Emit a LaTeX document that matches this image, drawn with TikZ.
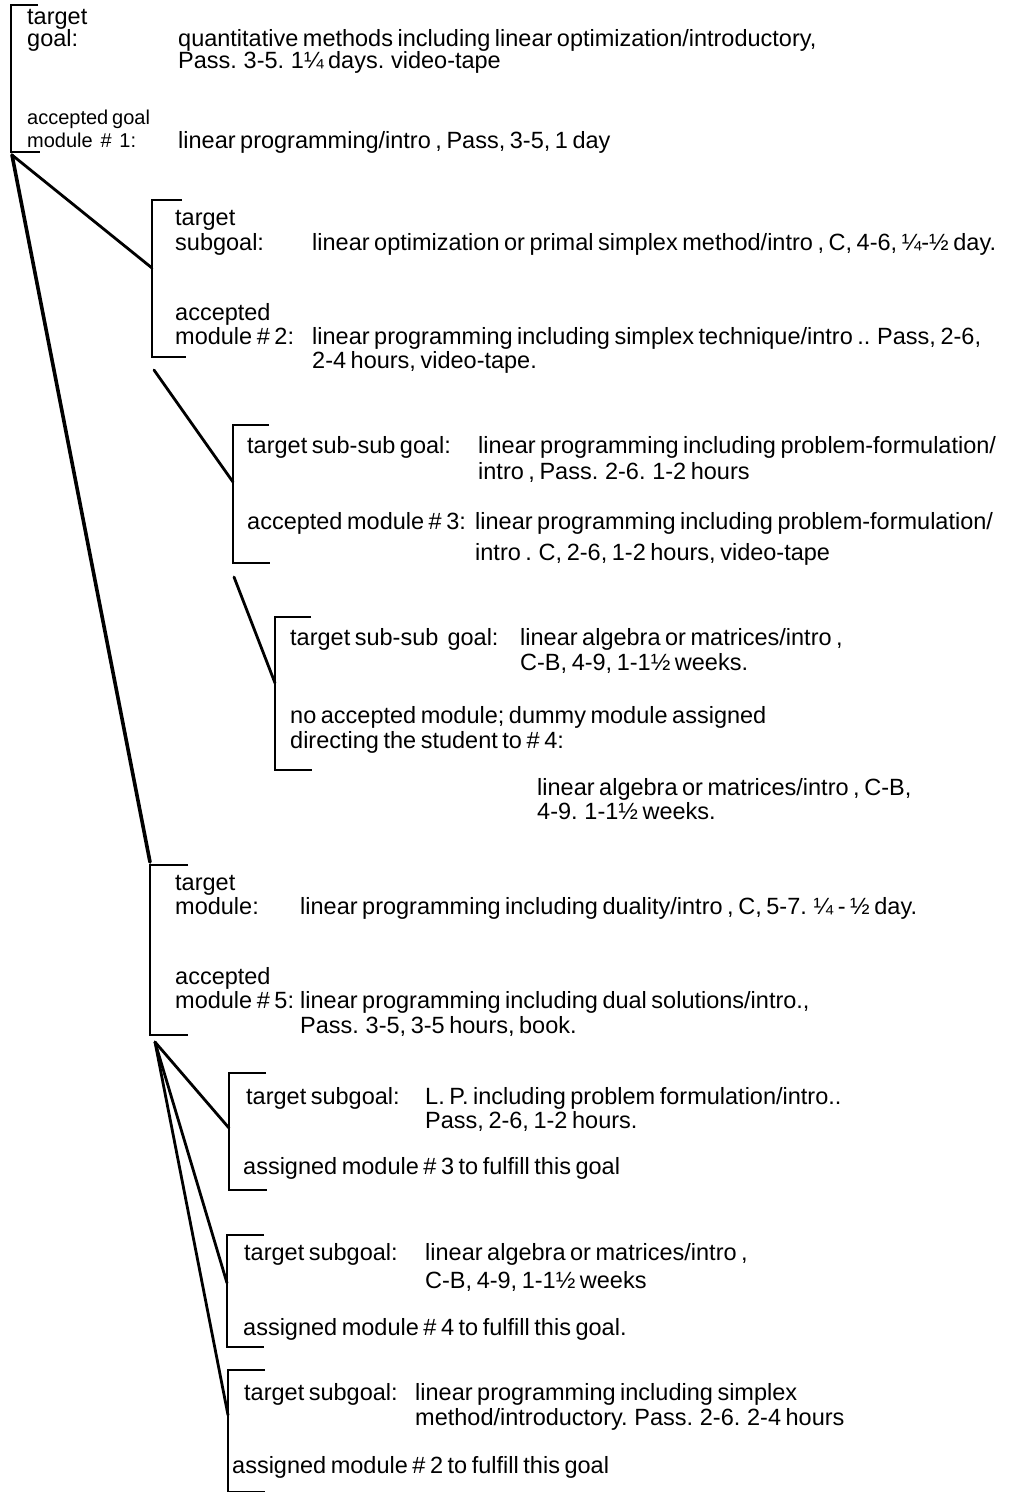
\documentclass[tikz,border=0pt]{standalone}
\usepackage{fontspec}
\setmainfont[WordSpace=0.7]{Liberation Sans}
\begin{document}
\begin{tikzpicture}[x=1pt,y=-1pt,
  txt/.style={anchor=mid west,inner sep=0pt,yshift=-5pt,font=\fontsize{23.5}{25}\selectfont},
  small/.style={txt,font=\fontsize{20}{22}\selectfont},
  brk/.style={line width=2.4pt,line join=miter},
  conn/.style={line width=2.8pt,line cap=round},
  thick conn/.style={line width=3.6pt,line cap=round}]
\useasboundingbox[fill=white] (0,0) rectangle (1013,1492);

% ---------- brackets
\draw[brk] (38,5) -- (11,5) -- (11,152) -- (40,152);
\draw[brk] (182,200) -- (152,200) -- (152,357) -- (186,357);
\draw[brk] (269,425) -- (233,425) -- (233,563) -- (270,563);
\draw[brk] (311,617) -- (275,617) -- (275,770) -- (312,770);
\draw[brk] (188,865) -- (150,865) -- (150,1035) -- (188,1035);
\draw[brk] (266,1073) -- (229,1073) -- (229,1190) -- (267,1190);
\draw[brk] (264,1235) -- (227,1235) -- (227,1347) -- (264,1347);
\draw[brk] (265,1370) -- (228,1370) -- (228,1492) -- (265,1492);

% ---------- junction coordinates
\coordinate (b1apex) at (12,155);
\coordinate (b2join) at (152,268);
\coordinate (b2apex) at (154,370);
\coordinate (b3join) at (233,482);
\coordinate (b3apex) at (234,577);
\coordinate (b3bjoin) at (275,683);
\coordinate (b4top) at (150,862);
\coordinate (b4apex) at (155,1042);
\coordinate (b5join) at (229,1128);
\coordinate (b6join) at (227,1283);
\coordinate (b7join) at (228,1415);

% ---------- connectors
\draw[conn] (b1apex) -- (b2join);
\draw[thick conn] (b1apex) -- (b4top);
\draw[conn] (b2apex) -- (b3join);
\draw[conn] (b3apex) -- (b3bjoin);
\draw[conn] (b4apex) -- (b5join);
\draw[conn] (b4apex) -- (b6join);
\draw[conn] (b4apex) -- (b7join);

% ---------- bracket 1
\node[txt] (t1a) at (27,17) {target};
\node[txt] (t1b) at (27,39) {goal:};
\node[txt] (t1c) at (178,39) {quantitative methods including linear optimization/introductory,};
\node[txt] (t1d) at (178,61) {Pass. 3-5. 1¼ days. video-tape};
\node[small] (t1e) at (27,117) {accepted goal};
\node[small] (t1f) at (27,140) {module \ \# \ 1:};
\node[txt] (t1g) at (178,141) {linear programming/intro , Pass, 3-5, 1 day};

% ---------- bracket 2
\node[txt] (t2a) at (175,218) {target};
\node[txt] (t2b) at (175,243) {subgoal:};
\node[txt] (t2c) at (312,243) {linear optimization or primal simplex method/intro , C, 4-6, ¼-½ day.};
\node[txt] (t2d) at (175,313) {accepted};
\node[txt] (t2e) at (175,337) {module \# 2:};
\node[txt] (t2f) at (312,337) {linear programming including simplex technique/intro .. Pass, 2-6,};
\node[txt] (t2g) at (312,361) {2-4 hours, video-tape.};

% ---------- bracket 3
\node[txt] (t3a) at (247,446) {target sub-sub goal:};
\node[txt] (t3b) at (478,446) {linear programming including problem-formulation/};
\node[txt] (t3c) at (478,472) {intro , Pass. 2-6. 1-2 hours};
\node[txt] (t3d) at (247,522) {accepted module \# 3:};
\node[txt] (t3e) at (475,522) {linear programming including problem-formulation/};
\node[txt] (t3f) at (475,553) {intro . C, 2-6, 1-2 hours, video-tape};

% ---------- bracket 3b
\node[txt] (t4a) at (290,638) {target sub-sub\ \ goal:};
\node[txt] (t4b) at (520,638) {linear algebra or matrices/intro ,};
\node[txt] (t4c) at (520,663) {C-B, 4-9, 1-1½ weeks.};
\node[txt] (t4d) at (290,716) {no accepted module; dummy module assigned};
\node[txt] (t4e) at (290,741) {directing the student to \# 4:};
\node[txt] (t4f) at (537,788) {linear algebra or matrices/intro , C-B,};
\node[txt] (t4g) at (537,812) {4-9. 1-1½ weeks.};

% ---------- bracket 4
\node[txt] (t5a) at (175,883) {target};
\node[txt] (t5b) at (175,907) {module:};
\node[txt] (t5c) at (300,907) {linear programming including duality/intro , C, 5-7. ¼ - ½ day.};
\node[txt] (t5d) at (175,977) {accepted};
\node[txt] (t5e) at (175,1001) {module \# 5:};
\node[txt] (t5f) at (300,1001) {linear programming including dual solutions/intro.,};
\node[txt] (t5g) at (300,1026) {Pass. 3-5, 3-5 hours, book.};

% ---------- bracket 5
\node[txt] (t6a) at (246,1097) {target subgoal:};
\node[txt] (t6b) at (425,1097) {L. P. including problem formulation/intro..};
\node[txt] (t6c) at (425,1121) {Pass, 2-6, 1-2 hours.};
\node[txt] (t6d) at (243,1167) {assigned module \# 3 to fulfill this goal};

% ---------- bracket 6
\node[txt] (t7a) at (244,1253) {target subgoal:};
\node[txt] (t7b) at (425,1253) {linear algebra or matrices/intro ,};
\node[txt] (t7c) at (425,1281) {C-B, 4-9, 1-1½ weeks};
\node[txt] (t7d) at (243,1328) {assigned module \# 4 to fulfill this goal.};

% ---------- bracket 7
\node[txt] (t8a) at (244,1393) {target subgoal:};
\node[txt] (t8b) at (415,1393) {linear programming including simplex};
\node[txt] (t8c) at (415,1418) {method/introductory. Pass. 2-6. 2-4 hours};
\node[txt] (t8d) at (232,1466) {assigned module \# 2 to fulfill this goal};
\end{tikzpicture}
\end{document}
